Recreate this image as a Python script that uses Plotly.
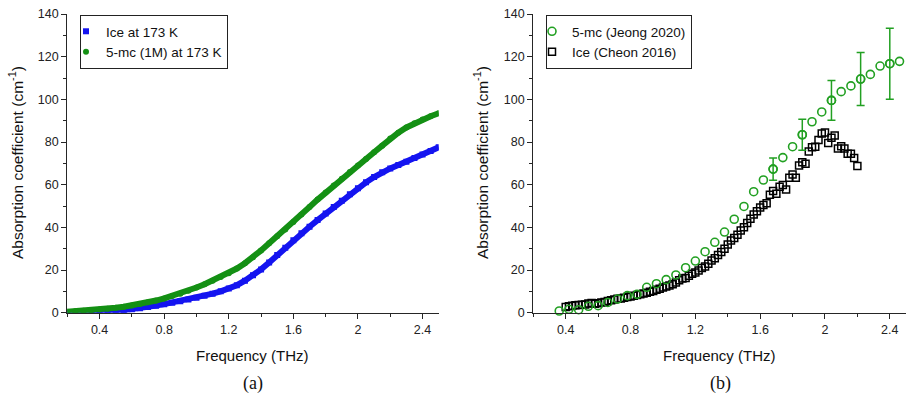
import plotly.graph_objects as go
from plotly.subplots import make_subplots

# ---------------- Data: panel (a) ----------------
freq_a = [0.20, 0.25, 0.30, 0.35, 0.40, 0.45, 0.50, 0.55, 0.60, 0.65, 0.70, 0.75,
          0.80, 0.85, 0.90, 0.95, 1.00, 1.05, 1.10, 1.15, 1.20, 1.25, 1.30, 1.35,
          1.40, 1.45, 1.50, 1.55, 1.60, 1.65, 1.70, 1.75, 1.80, 1.85, 1.90, 1.95,
          2.00, 2.05, 2.10, 2.15, 2.20, 2.25, 2.30, 2.35, 2.40, 2.45, 2.50]
ice_173 = [0.0, 0.05, 0.1, 0.2, 0.35, 0.6, 0.9, 1.2, 1.6, 2.1, 2.7, 3.3,
           4.0, 4.7, 5.4, 6.2, 7.0, 7.9, 8.9, 10.0, 11.3, 12.9, 15.0, 17.5,
           20.3, 23.5, 27.0, 30.5, 34.0, 37.2, 40.3, 43.4, 46.5, 49.5, 52.5, 55.5,
           58.3, 61.1, 63.6, 65.8, 67.6, 69.2, 70.8, 72.5, 74.2, 75.8, 77.5]
mc_173 = [0.5, 0.7, 0.9, 1.2, 1.5, 1.9, 2.3, 2.8, 3.4, 4.1, 4.9, 5.7,
          6.7, 7.8, 8.9, 10.3, 11.8, 13.3, 15.0, 16.7, 18.5, 20.7, 23.2, 26.0,
          29.2, 32.6, 35.8, 39.0, 42.5, 46.0, 49.5, 53.0, 56.3, 59.6, 62.8, 66.0,
          69.0, 72.0, 75.2, 78.3, 81.6, 84.4, 86.8, 88.8, 90.6, 92.1, 93.5]

# ---------------- Data: panel (b) ----------------
freq_jeong = [0.36, 0.42, 0.48, 0.54, 0.60, 0.66, 0.72, 0.78, 0.84, 0.90, 0.96, 1.02,
              1.08, 1.14, 1.20, 1.26, 1.32, 1.38, 1.44, 1.50, 1.56, 1.62, 1.68, 1.74,
              1.80, 1.86, 1.92, 1.98, 2.04, 2.10, 2.16, 2.22, 2.28, 2.34, 2.40, 2.46]
mc_jeong = [0.8, 1.6, 1.4, 3.0, 3.3, 4.8, 6.4, 8.0, 8.6, 11.9, 13.6, 15.5,
            17.7, 21.1, 24.2, 28.6, 33.0, 37.8, 43.8, 49.8, 56.7, 62.2, 67.3, 72.7,
            77.8, 83.4, 89.5, 94.1, 99.5, 103.6, 106.3, 109.5, 111.7, 115.6, 116.7, 117.8]
mc_jeong_err = [None] * 22 + [5.2, None, None, 7.3, None, None, 9.3, None, None,
                              12.4, None, None, 16.6, None]

freq_cheon = [0.40, 0.42, 0.44, 0.46, 0.48, 0.50, 0.52, 0.54, 0.56, 0.58, 0.60, 0.62,
              0.64, 0.66, 0.68, 0.70, 0.72, 0.74, 0.76, 0.78, 0.80, 0.82, 0.84, 0.86,
              0.88, 0.90, 0.92, 0.94, 0.96, 0.98, 1.00, 1.02, 1.04, 1.06, 1.08, 1.10,
              1.12, 1.14, 1.16, 1.18, 1.20, 1.22, 1.24, 1.26, 1.28, 1.30, 1.32, 1.34,
              1.36, 1.38, 1.40, 1.42, 1.44, 1.46, 1.48, 1.50, 1.52, 1.54, 1.56, 1.58,
              1.60, 1.62, 1.64, 1.66, 1.68, 1.70, 1.72, 1.74, 1.76, 1.78, 1.80, 1.82,
              1.84, 1.86, 1.88, 1.90, 1.92, 1.94, 1.96, 1.98, 2.00, 2.02, 2.04, 2.06,
              2.08, 2.10, 2.12, 2.14, 2.16, 2.18, 2.20]
ice_cheon = [2.7, 3.0, 3.3, 3.5, 3.6, 3.7, 3.8, 4.3, 4.5, 4.2, 4.4, 4.8,
             5.0, 5.5, 5.8, 6.2, 6.5, 6.7, 7.0, 7.3, 7.6, 8.0, 8.3, 8.6,
             9.0, 9.4, 9.8, 10.2, 10.7, 11.2, 11.8, 12.3, 12.8, 13.3, 14.2, 15.2,
             16.0, 16.3, 17.3, 18.2, 18.8, 19.8, 21.0, 21.6, 23.0, 24.5, 25.5, 27.0,
             28.5, 30.0, 32.0, 33.8, 35.0, 36.5, 38.5, 40.0, 42.0, 44.0, 46.0, 47.5,
             49.3, 50.5, 51.3, 55.3, 57.0, 55.8, 59.0, 59.8, 57.8, 63.2, 64.8, 63.3,
             69.0, 70.5, 69.8, 75.5, 77.5, 77.8, 81.0, 84.0, 84.5, 79.5, 82.0, 83.0,
             77.0, 78.0, 77.0, 74.5, 74.5, 72.5, 68.7]

# ---------------- Styling ----------------
W, H = 906, 397
BLUE = "#1414f0"
GREEN_A = "#149014"
GREEN_B = "#22a022"
AX = "#262626"
SANS = "Liberation Sans, Arial, sans-serif"
SERIF = "Liberation Serif, Times New Roman, serif"

fig = make_subplots(rows=1, cols=2)

# Panel (a)
fig.add_trace(go.Scatter(x=freq_a, y=ice_173, mode="lines",
                         line=dict(color=BLUE, width=6), showlegend=False,
                         hoverinfo="skip"), row=1, col=1)
fig.add_trace(go.Scatter(x=freq_a, y=ice_173, mode="markers", name="Ice at 173 K",
                         marker=dict(symbol="square", size=6, color=BLUE),
                         legend="legend"), row=1, col=1)
fig.add_trace(go.Scatter(x=freq_a, y=mc_173, mode="lines",
                         line=dict(color=GREEN_A, width=6), showlegend=False,
                         hoverinfo="skip"), row=1, col=1)
fig.add_trace(go.Scatter(x=freq_a, y=mc_173, mode="markers", name="5-mc (1M) at 173 K",
                         marker=dict(symbol="circle", size=6, color=GREEN_A),
                         legend="legend"), row=1, col=1)

# Panel (b)
fig.add_trace(go.Scatter(x=freq_cheon, y=ice_cheon, mode="markers", name="Ice (Cheon 2016)",
                         marker=dict(symbol="square-open", size=7, color="black",
                                     line=dict(width=1.5)),
                         legend="legend2", legendrank=2, cliponaxis=False), row=1, col=2)
fig.add_trace(go.Scatter(x=freq_jeong, y=mc_jeong, mode="markers", name="5-mc (Jeong 2020)",
                         marker=dict(symbol="circle-open", size=8, color=GREEN_B,
                                     line=dict(width=1.6)),
                         legend="legend2", legendrank=1, cliponaxis=False), row=1, col=2)
# error bars only at the points that carry them
err_idx = [i for i, e in enumerate(mc_jeong_err) if e is not None]
fig.add_trace(go.Scatter(x=[freq_jeong[i] for i in err_idx],
                         y=[mc_jeong[i] for i in err_idx],
                         mode="markers", showlegend=False, hoverinfo="skip",
                         marker=dict(symbol="circle-open", size=8, color=GREEN_B,
                                     line=dict(width=1.6)),
                         error_y=dict(type="data", array=[mc_jeong_err[i] for i in err_idx],
                                      visible=True, color=GREEN_B, thickness=1.5, width=4),
                         cliponaxis=False), row=1, col=2)

# Domains (pixel-based)
y0 = 1 - 312.7 / H
y1 = 1 - 14 / H
xa = [67.3 / W, 438.7 / W]
xb = [533.3 / W, 1.0]

axis_common = dict(
    showline=True, linecolor=AX, linewidth=1.3, mirror=False,
    ticks="outside", ticklen=5, tickwidth=1.2, tickcolor=AX,
    showgrid=False, zeroline=False,
    tickfont=dict(family=SANS, size=12.5, color="#222"),
)

for i, dom in enumerate([xa, xb], start=1):
    xname = "xaxis" if i == 1 else "xaxis2"
    yname = "yaxis" if i == 1 else "yaxis2"
    fig.update_layout({
        xname: dict(domain=dom, range=[0.2, 2.5], tick0=0.4, dtick=0.4,
                    minor=dict(dtick=0.2, tick0=0.2, ticklen=3, tickwidth=1, tickcolor=AX,
                               ticks="outside", showgrid=False),
                    anchor="y" if i == 1 else "y2", **axis_common),
        yname: dict(domain=[y0, y1], range=[0, 140], tick0=0, dtick=20,
                    minor=dict(dtick=10, ticklen=3, tickwidth=1, tickcolor=AX,
                               ticks="outside", showgrid=False),
                    anchor="x" if i == 1 else "x2", **axis_common),
    })

legend_common = dict(
    bgcolor="white", bordercolor="#222", borderwidth=1,
    font=dict(family=SANS, size=13.5, color="#111"),
    xanchor="left", yanchor="top", tracegroupgap=0, itemwidth=30,
    traceorder="normal", indentation=-15,
)
fig.update_layout(
    legend=dict(x=80 / W, y=1 - 15 / H, **legend_common),
    legend2=dict(x=546 / W, y=1 - 15 / H, **legend_common),
)

annots = [
    dict(text="Frequency (THz)", x=(67.3 + 438.7) / 2 / W, y=1 - 355 / H,
         font=dict(family=SANS, size=15, color="#111")),
    dict(text="Frequency (THz)", x=(533.3 + 906) / 2 / W, y=1 - 355 / H,
         font=dict(family=SANS, size=15, color="#111")),
    dict(text="(a)", x=253 / W, y=1 - 383 / H,
         font=dict(family=SERIF, size=18, color="#111")),
    dict(text="(b)", x=720 / W, y=1 - 383 / H,
         font=dict(family=SERIF, size=18, color="#111")),
    dict(text="Absorption coefficient (cm<sup>-1</sup>)", x=16 / W, y=1 - 163 / H,
         textangle=-90, font=dict(family=SANS, size=15.5, color="#111")),
    dict(text="Absorption coefficient (cm<sup>-1</sup>)", x=481 / W, y=1 - 163 / H,
         textangle=-90, font=dict(family=SANS, size=15.5, color="#111")),
]
for a in annots:
    a.update(xref="paper", yref="paper", showarrow=False, xanchor="center", yanchor="middle")
fig.update_layout(annotations=annots)

fig.update_layout(
    width=W, height=H, margin=dict(l=0, r=0, t=0, b=0, autoexpand=False),
    paper_bgcolor="white", plot_bgcolor="white",
)

fig.write_html("out.html",
               config={"displayModeBar": False, "responsive": False},
               post_script="document.body.style.margin='0';"
                           "document.body.style.overflow='hidden';")
